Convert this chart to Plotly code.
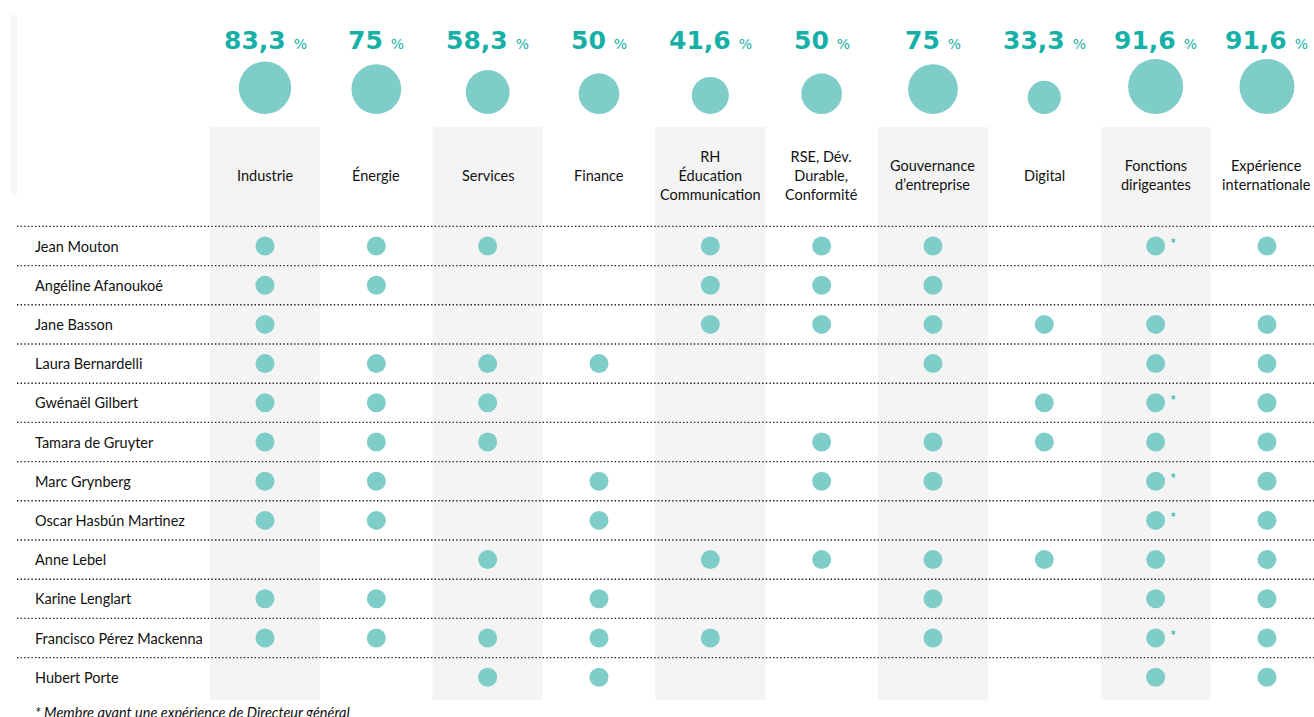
import numpy as np
import plotly.graph_objects as go

# ---------------- data ----------------
categories = ["Industrie", "Énergie", "Services", "Finance", "RH",
              "RSE", "Gouvernance", "Digital", "Fonctions", "Expérience"]
category_labels = ["Industrie", "Énergie", "Services", "Finance",
                   "RH<br>Éducation<br>Communication",
                   "RSE, Dév.<br>Durable,<br>Conformité",
                   "Gouvernance<br>d’entreprise", "Digital",
                   "Fonctions<br>dirigeantes", "Expérience<br>internationale"]
percent_values = [83.3, 75, 58.3, 50, 41.6, 50, 75, 33.3, 91.6, 91.6]
percent_labels = ["83,3", "75", "58,3", "50", "41,6", "50", "75", "33,3", "91,6", "91,6"]

members = ["Jean Mouton", "Angéline Afanoukoé", "Jane Basson", "Laura Bernardelli",
           "Gwénaël Gilbert", "Tamara de Gruyter", "Marc Grynberg",
           "Oscar Hasbún Martinez", "Anne Lebel", "Karine Lenglart",
           "Francisco Pérez Mackenna", "Hubert Porte"]

# 1 = expertise present (order of categories)
skills = [
    [1, 1, 1, 0, 1, 1, 1, 0, 1, 1],  # Jean Mouton
    [1, 1, 0, 0, 1, 1, 1, 0, 0, 0],  # Angéline Afanoukoé
    [1, 0, 0, 0, 1, 1, 1, 1, 1, 1],  # Jane Basson
    [1, 1, 1, 1, 0, 0, 1, 0, 1, 1],  # Laura Bernardelli
    [1, 1, 1, 0, 0, 0, 0, 1, 1, 1],  # Gwénaël Gilbert
    [1, 1, 1, 0, 0, 1, 1, 1, 1, 1],  # Tamara de Gruyter
    [1, 1, 0, 1, 0, 1, 1, 0, 1, 1],  # Marc Grynberg
    [1, 1, 0, 1, 0, 0, 0, 0, 1, 1],  # Oscar Hasbún Martinez
    [0, 0, 1, 0, 1, 1, 1, 1, 1, 1],  # Anne Lebel
    [1, 1, 0, 1, 0, 0, 1, 0, 1, 1],  # Karine Lenglart
    [1, 1, 1, 1, 1, 0, 1, 0, 1, 1],  # Francisco Pérez Mackenna
    [0, 0, 1, 1, 0, 0, 0, 0, 1, 1],  # Hubert Porte
]
ceo_experience = ["Jean Mouton", "Gwénaël Gilbert", "Marc Grynberg",
                  "Oscar Hasbún Martinez", "Francisco Pérez Mackenna"]
footnote = "* Membre ayant une expérience de Directeur général"

# ---------------- styles ----------------
W, H = 1314, 717
TEAL = "#17b0a7"
DOT = "#7fcdc9"
GREY = "#f4f4f4"
TXT = "#111111"
FONT = "Lato"

col_first_px, col_step_px = 265, 111.33
row_first_px, row_step_px = 246, 39.2
x_range = [-col_first_px / col_step_px, (W - col_first_px) / col_step_px]
y_range = [(H - row_first_px) / row_step_px, -row_first_px / row_step_px]

fig = go.Figure()

# membership dots
xs, ys = [], []
for name, row in zip(members, skills):
    for cat, v in zip(categories, row):
        if v:
            xs.append(cat)
            ys.append(name)
fig.add_trace(go.Scatter(x=xs, y=ys, mode="markers",
                         marker=dict(size=19, color=DOT, opacity=1, line=dict(width=0)),
                         hoverinfo="skip", showlegend=False))

# header circles (area proportional to percentage), bottom aligned
diam = [57.5 * np.sqrt(p / 100) for p in percent_values]
base = 114
fig.add_trace(go.Scatter(x=categories, y=[base - d / 2 for d in diam], yaxis="y2",
                         mode="markers",
                         marker=dict(size=diam, color=DOT, opacity=1, line=dict(width=0)),
                         hoverinfo="skip", showlegend=False))

shapes = []
# faint left bar
shapes.append(dict(type="rect", xref="paper", yref="y2", x0=10 / W, x1=17 / W,
                   y0=15, y1=195, fillcolor="#f7f7f7", line=dict(width=0), layer="below"))
# grey shaded columns
for i in range(0, len(categories), 2):
    shapes.append(dict(type="rect", xref="x", yref="y2", x0=i - 0.495, x1=i + 0.495,
                       y0=127, y1=700, fillcolor=GREY, line=dict(width=0), layer="below"))
# dotted separators
for i in range(len(members)):
    shapes.append(dict(type="line", xref="paper", yref="y", x0=17 / W, x1=1,
                       y0=i - 0.5, y1=i - 0.5,
                       line=dict(color="#222222", width=1.4, dash="1.4px,2.2px")))

ann = []
for cat, lab, pl in zip(categories, category_labels, percent_labels):
    ann.append(dict(x=cat, y=40, xref="x", yref="y2", showarrow=False,
                    text=f"<b>{pl}</b> <span style='font-size:14px;font-weight:normal'>%</span>",
                    font=dict(family="DejaVu Sans", size=25, color=TEAL),
                    xanchor="center", yanchor="middle"))
    ann.append(dict(x=cat, y=175, xref="x", yref="y2", showarrow=False, text=lab,
                    font=dict(family=FONT, size=14.5, color=TXT),
                    xanchor="center", yanchor="middle", align="center"))
for name in members:
    ann.append(dict(x=33 / W, y=name, xref="paper", yref="y", showarrow=False,
                    text=name, font=dict(family=FONT, size=14.5, color=TXT),
                    xanchor="left", yanchor="middle"))
for name in ceo_experience:
    ann.append(dict(x="Fonctions", y=name, xref="x", yref="y", showarrow=False,
                    text="*", font=dict(family=FONT, size=15, color=TEAL),
                    xshift=17, yshift=3, xanchor="center", yanchor="middle"))
ann.append(dict(x=33 / W, y=712, xref="paper", yref="y2", showarrow=False,
                text=f"<i>{footnote}</i>", font=dict(family=FONT, size=14.5, color=TXT),
                xanchor="left", yanchor="middle"))

fig.update_layout(
    width=W, height=H, margin=dict(l=0, r=0, t=0, b=0),
    paper_bgcolor="white", plot_bgcolor="white",
    xaxis=dict(type="category", categoryarray=categories, categoryorder="array",
               range=x_range, visible=False, fixedrange=True),
    yaxis=dict(type="category", categoryarray=members, categoryorder="array",
               range=y_range, visible=False, fixedrange=True),
    yaxis2=dict(overlaying="y", range=[H, 0], visible=False, fixedrange=True),
    shapes=shapes, annotations=ann, showlegend=False,
)

fig.write_html("out.html", config={"displayModeBar": False},
               post_script="document.body.style.margin='0';document.body.style.overflow='hidden';")
